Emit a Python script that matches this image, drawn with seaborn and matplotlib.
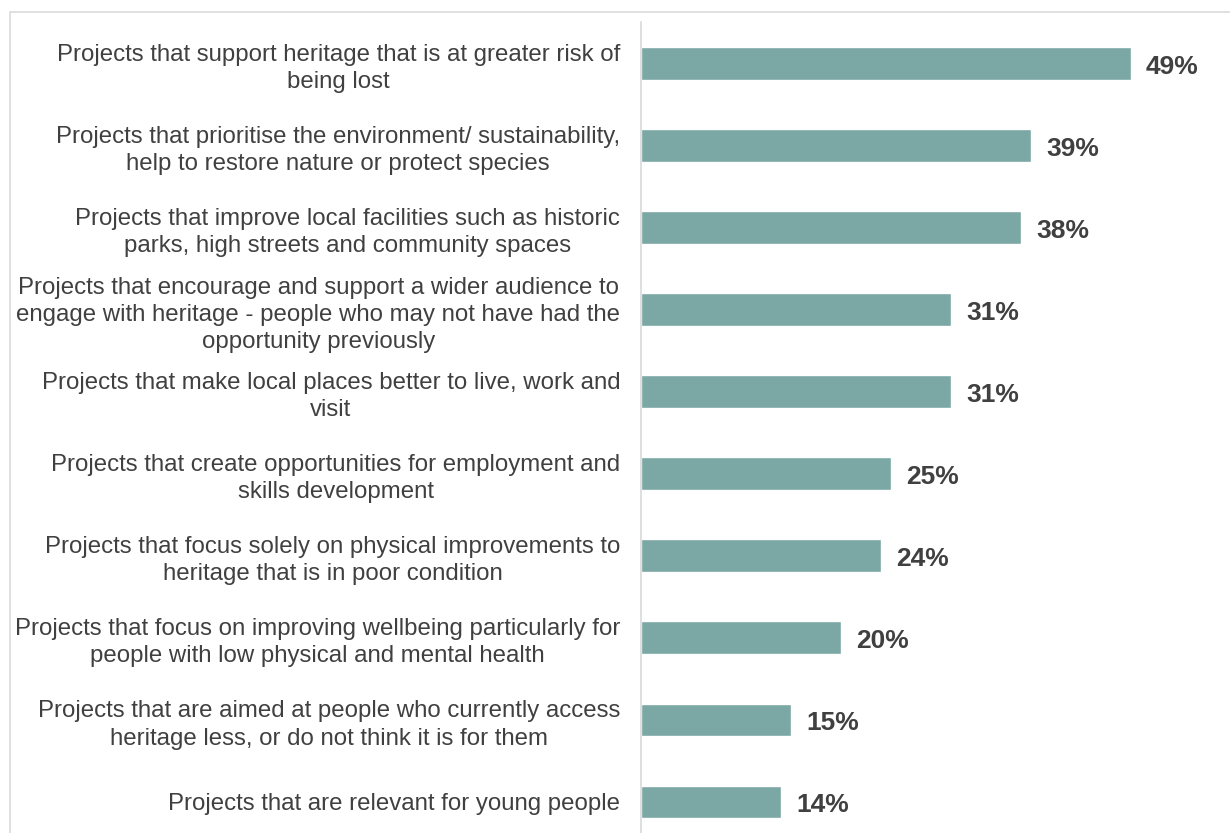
import matplotlib
matplotlib.use("Agg")
import matplotlib.pyplot as plt
import seaborn as sns
import pandas as pd
from matplotlib.patches import Rectangle

categories = [
    "Projects that support heritage that is at greater risk of\nbeing lost",
    "Projects that prioritise the environment/ sustainability,\nhelp to restore nature or protect species",
    "Projects that improve local facilities such as historic\nparks, high streets and community spaces",
    "Projects that encourage and support a wider audience to\nengage with heritage - people who may not have had the\nopportunity previously",
    "Projects that make local places better to live, work and\nvisit",
    "Projects that create opportunities for employment and\nskills development",
    "Projects that focus solely on physical improvements to\nheritage that is in poor condition",
    "Projects that focus on improving wellbeing particularly for\npeople with low physical and mental health",
    "Projects that are aimed at people who currently access\nheritage less, or do not think it is for them",
    "Projects that are relevant for young people",
]
values = [49, 39, 38, 31, 31, 25, 24, 20, 15, 14]

BAR_COLOR = "#7BA7A5"
TEXT_COLOR = "#404040"

df = pd.DataFrame({"category": categories, "value": values})

sns.set_theme(style="white")
plt.rcParams["font.family"] = ["Liberation Sans", "DejaVu Sans"]

W, H = 1230, 833
fig = plt.figure(figsize=(W / 100, H / 100), dpi=100)

# outer frame
fig.patches.append(Rectangle((10 / W, -0.1), 1.2, 1 - 12 / H + 0.1,
                             transform=fig.transFigure, fill=False,
                             edgecolor="#DADADA", linewidth=1.2, zorder=0))

ax_left, ax_top, ax_bottom = 641 / W, 22.5 / H, 843 / H
ax = fig.add_axes([ax_left, 1 - ax_bottom, 1 - ax_left, ax_bottom - ax_top])
ax.patch.set_alpha(0)

sns.barplot(data=df, x="value", y="category", color=BAR_COLOR, saturation=1,
            width=0.4, orient="h", ax=ax)

ax.set_xlim(0, (W - 641) / 10)
ax.set_xlabel("")
ax.set_ylabel("")
ax.set_xticks([])
for s in ["top", "right", "bottom"]:
    ax.spines[s].set_visible(False)
ax.spines["left"].set_color("#D9D9D9")
ax.spines["left"].set_linewidth(1.2)

ax.tick_params(axis="y", length=0, pad=15)
for lbl in ax.get_yticklabels():
    lbl.set_multialignment("center")
    lbl.set_fontsize(17.3)
    lbl.set_color(TEXT_COLOR)
    lbl.set_linespacing(1.3)

for i, v in enumerate(values):
    ax.text(v + 1.5, i + 0.04, f"{v}%", va="center", ha="left", fontsize=19,
            fontweight="bold", color=TEXT_COLOR)

fig.savefig("out.png", dpi=100)
